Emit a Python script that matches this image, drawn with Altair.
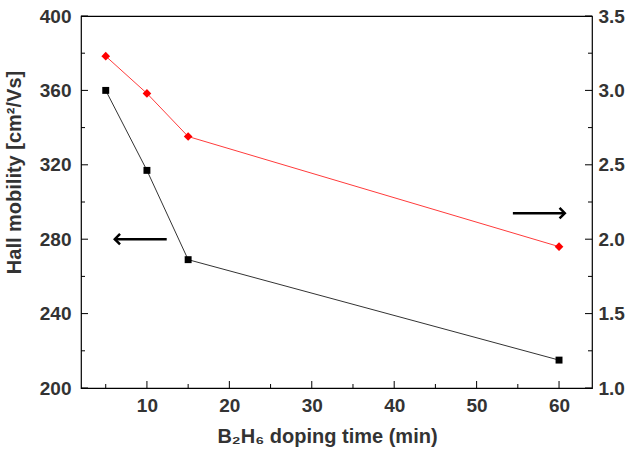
import altair as alt
import pandas as pd

# Data
time_min = [5, 10, 15, 60]
hall_mobility = [360, 317, 269, 215]
right_series = [3.23, 2.98, 2.69, 1.95]

x_major = [10, 20, 30, 40, 50, 60]
x_minor = [5, 15, 25, 35, 45, 55]
yl_major = [200, 240, 280, 320, 360, 400]
yl_minor = [220, 260, 300, 340, 380]
yr_major = [1.0, 1.5, 2.0, 2.5, 3.0, 3.5]
yr_minor = [1.25, 1.75, 2.25, 2.75, 3.25]

# arrows: (tail_x, tip_x, y) in data units
left_arrow = {"x_tail": [12.4], "x_tip": [6.1], "y": [280]}
right_arrow = {"x_tail": [54.4], "x_tip": [60.7], "y": [294]}

W, H = 511, 372
FONT = "Liberation Sans"
LABEL_COLOR = "#333333"

xscale = alt.Scale(domain=[2, 64], nice=False, zero=False)
ylscale = alt.Scale(domain=[200, 400], nice=False, zero=False)
yrscale = alt.Scale(domain=[1.0, 3.5], nice=False, zero=False)

xaxis = alt.Axis(values=x_major, ticks=False, domain=False, grid=False, labelPadding=8,
                 title="B\u2082H\u2086 doping time (min)", titleX=246, titleY=38,
                 titleAlign="center", titleBaseline="top")

df_left = pd.DataFrame({"t": time_min, "v": hall_mobility})
df_right = pd.DataFrame({"t": time_min, "v": right_series})

x_enc = alt.X("t:Q", scale=xscale, axis=xaxis)

black_line = alt.Chart(df_left).mark_line(color="#333333", strokeWidth=1).encode(
    x=x_enc,
    y=alt.Y("v:Q", scale=ylscale,
            axis=alt.Axis(values=yl_major, format="d", ticks=False, domain=False, grid=False,
                          labelPadding=10, title="Hall mobility [cm\u00b2/Vs]",
                          titleX=-57, titleY=156, titleAngle=270, titleAlign="center",
                          titleBaseline="bottom", orient="left")),
)
black_pts = alt.Chart(df_left).mark_point(shape="square", filled=True, color="#000000", size=48, opacity=1).encode(
    x=alt.X("t:Q", scale=xscale), y=alt.Y("v:Q", scale=ylscale)
)

# arrows (left scale)
la = pd.DataFrame(left_arrow)
ra = pd.DataFrame(right_arrow)
la_line = alt.Chart(la).mark_rule(color="#000000", strokeWidth=2.5).encode(
    x=alt.X("x_tail:Q", scale=xscale), x2="x_tip:Q", y=alt.Y("y:Q", scale=ylscale))
la_head = alt.Chart(la).mark_point(shape="M1,-1L0,0L1,1", filled=False, color="#000000",
                                   strokeWidth=2.5, size=110, opacity=1).encode(
    x=alt.X("x_tip:Q", scale=xscale), y=alt.Y("y:Q", scale=ylscale))
ra_line = alt.Chart(ra).mark_rule(color="#000000", strokeWidth=2.5).encode(
    x=alt.X("x_tail:Q", scale=xscale), x2="x_tip:Q", y=alt.Y("y:Q", scale=ylscale))
ra_head = alt.Chart(ra).mark_point(shape="M-1,-1L0,0L-1,1", filled=False, color="#000000",
                                   strokeWidth=2.5, size=110, opacity=1).encode(
    x=alt.X("x_tip:Q", scale=xscale), y=alt.Y("y:Q", scale=ylscale))

# inward ticks
ylmaj = alt.Chart(pd.DataFrame({"v": yl_major})).mark_rule(color="#000000").encode(
    y=alt.Y("v:Q", scale=ylscale), x=alt.value(0), x2=alt.value(7))
ylmin = alt.Chart(pd.DataFrame({"v": yl_minor})).mark_rule(color="#000000").encode(
    y=alt.Y("v:Q", scale=ylscale), x=alt.value(0), x2=alt.value(4))
xmaj = alt.Chart(pd.DataFrame({"t": x_major})).mark_rule(color="#000000").encode(
    x=alt.X("t:Q", scale=xscale), y=alt.value(H), y2=alt.value(H - 7))
xmin = alt.Chart(pd.DataFrame({"t": x_minor})).mark_rule(color="#000000").encode(
    x=alt.X("t:Q", scale=xscale), y=alt.value(H), y2=alt.value(H - 4))

left_group = alt.layer(black_line, black_pts, la_line, la_head, ra_line, ra_head, ylmaj, ylmin, xmaj, xmin)

red_line = alt.Chart(df_right).mark_line(color="#ff3b3b", strokeWidth=1).encode(
    x=alt.X("t:Q", scale=xscale),
    y=alt.Y("v:Q", scale=yrscale,
            axis=alt.Axis(values=yr_major, format=".1f", ticks=False, domain=False, grid=False,
                          labelPadding=6, title=None, orient="right")),
)
red_pts = alt.Chart(df_right).mark_point(shape="diamond", filled=True, color="#ff0000", size=75, opacity=1).encode(
    x=alt.X("t:Q", scale=xscale), y=alt.Y("v:Q", scale=yrscale))
yrmaj = alt.Chart(pd.DataFrame({"v": yr_major})).mark_rule(color="#000000").encode(
    y=alt.Y("v:Q", scale=yrscale), x=alt.value(W), x2=alt.value(W - 7))
yrmin = alt.Chart(pd.DataFrame({"v": yr_minor})).mark_rule(color="#000000").encode(
    y=alt.Y("v:Q", scale=yrscale), x=alt.value(W), x2=alt.value(W - 4))

right_group = alt.layer(red_line, red_pts, yrmaj, yrmin)

chart = alt.layer(left_group, right_group).resolve_scale(y="independent").properties(
    width=W, height=H,
    autosize=alt.AutoSizeParams(type="none"),
    padding={"left": 81, "top": 16, "right": 48, "bottom": 62},
    background="white",
).configure_view(stroke="#000000", strokeWidth=1.2).configure_axis(
    labelFont=FONT, labelFontSize=19, labelFontWeight="bold", labelColor=LABEL_COLOR,
    titleFont=FONT, titleFontSize=20, titleFontWeight="bold", titleColor=LABEL_COLOR,
)

chart.save("out.html", embed_options={"renderer": "svg", "actions": False})
